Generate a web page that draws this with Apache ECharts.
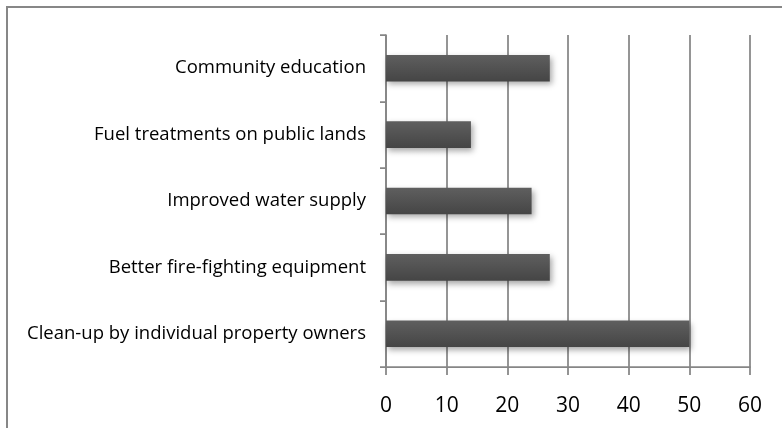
<!DOCTYPE html>
<html><head><meta charset="utf-8">
<script src="https://cdn.jsdelivr.net/npm/echarts@6/dist/echarts.min.js"></script>
<style>html,body{margin:0;padding:0;background:#fff}#c{width:782px;height:428px}</style>
</head><body><div id="c"></div>
<script>
const categories = ["Clean-up by individual property owners","Better fire-fighting equipment","Improved water supply","Fuel treatments on public lands","Community education"];
const values = [50, 27, 24, 14, 27];
const xTicks = [0, 10, 20, 30, 40, 50, 60];

const chart = echarts.init(document.getElementById('c'), null, {renderer:'canvas'});
chart.setOption({
  animation: false,
  backgroundColor: '#fff',
  graphic: [{type:'rect', shape:{x:7, y:7, width:820, height:480}, style:{fill:'none', stroke:'#878787', lineWidth:2}, silent:true}],
  grid: {left: 386, right: 32, top: 35, bottom: 61, containLabel: false},
  xAxis: {
    type: 'value', min: xTicks[0], max: xTicks[xTicks.length-1], interval: 10,
    axisLine: {show: true, lineStyle: {color: '#868686', width: 1.75}},
    axisTick: {show: true, length: 8, lineStyle: {color: '#868686', width: 1.75}},
    splitLine: {show: true, lineStyle: {color: '#868686', width: 1.75}},
    axisLabel: {color: '#000', fontSize: 21, fontFamily: 'Open Sans', margin: 29}
  },
  yAxis: {
    type: 'category', data: categories,
    axisLine: {show: true, lineStyle: {color: '#868686', width: 1.75}},
    axisTick: {show: true, length: 6, lineStyle: {color: '#868686', width: 1.75}},
    axisLabel: {color: '#000', fontSize: 18.5, fontFamily: 'Open Sans', margin: 20}
  },
  series: [{
    type: 'bar', data: values, barCategoryGap: '60%',
    itemStyle: {
      color: new echarts.graphic.LinearGradient(0,0,0,1,[{offset:0,color:'#5f5f5f'},{offset:1,color:'#454545'}]),
      shadowColor: 'rgba(0,0,0,0.35)', shadowBlur: 6, shadowOffsetX: 2, shadowOffsetY: 3
    }
  }]
});
</script></body></html>
